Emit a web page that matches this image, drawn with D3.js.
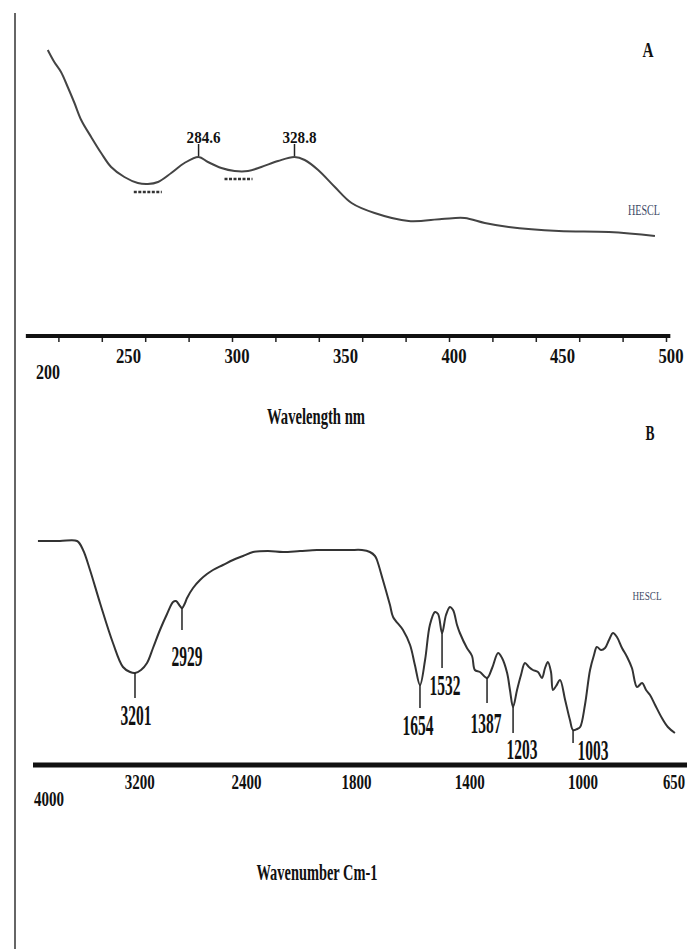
<!DOCTYPE html>
<html><head><meta charset="utf-8">
<script src="https://cdn.jsdelivr.net/npm/d3@7"></script>
<style>body{margin:0;background:#fff} svg{display:block}</style>
</head><body>
<script>
// ---------- Panel A : UV-Vis spectrum ----------
const uvWavelength = [215.1,218.1,221.2,224.3,227.4,230.5,235.1,239.7,244.3,250.4,256.6,261.2,265.9,272.0,278.1,284.6,288.9,295.1,301.2,307.4,313.5,321.2,328.8,333.5,339.7,347.4,355.1,365.7,381.4,396.6,407.2,416.5,427.5,450.6,473.7,494.9];
const uvAbsorbance = [2.86,2.74,2.64,2.49,2.33,2.16,1.99,1.83,1.69,1.59,1.53,1.52,1.54,1.63,1.73,1.79,1.74,1.68,1.65,1.65,1.69,1.75,1.79,1.76,1.66,1.49,1.33,1.23,1.15,1.17,1.18,1.13,1.09,1.05,1.04,1.00];
const uvPeaks = [284.6, 328.8];
const uvPeakLabels = ["284.6", "328.8"];
const uvMinima = [261.2, 303.0];
const uvTickLabels = [200, 250, 300, 350, 400, 450, 500];
const uvMinorTicks = [220,240,260,280,300,320,340,360,380,400,420,440,460,480,500];

// ---------- Panel B : FTIR spectrum ----------
const irWavenumber = [3963,3798,3670,3625,3573,3498,3401,3326,3273,3236,3191,3146,3101,3049,2996,2951,2929,2899,2884,2861,2846,2801,2749,2697,2652,2577,2502,2427,2352,2240,2127,2000,1940,1883,1823,1781,1753,1735,1728,1707,1682,1671,1636,1611,1594,1576,1558,1541,1523,1512,1498,1484,1470,1459,1445,1435,1410,1392,1382,1364,1339,1321,1300,1286,1268,1258,1247,1233,1219,1205,1191,1177,1159,1145,1134,1124,1113,1106,1095,1081,1063,1046,1035,1021,1010,993,975,961,951,936,922,908,894,880,862,844,827,809,791,777,763,745,721,700,675];
const irTransmittance = [90.4,90.4,90.4,86.8,78.8,65.6,49.6,40.0,38.0,37.6,38.8,41.6,47.6,54.8,61.2,66.0,66.4,64.4,63.6,65.6,67.6,71.6,74.8,77.2,78.8,80.8,82.8,84.4,86.0,86.4,86.0,86.4,86.8,86.8,86.8,86.8,86.0,84.4,82.8,74.8,64.8,60.0,54.8,48.8,40.8,32.8,42.8,56.8,62.0,61.2,53.6,60.8,64.0,62.8,56.8,53.6,47.6,44.4,38.8,38.0,35.6,39.6,45.6,43.6,37.6,30.8,24.0,30.8,36.8,41.6,40.0,38.8,38.0,35.6,39.6,42.0,38.0,30.8,32.4,34.8,26.8,18.8,14.8,15.2,16.0,24.8,38.8,44.8,48.0,46.8,47.6,50.8,53.6,52.0,47.6,44.0,39.6,32.0,33.6,30.8,28.8,24.8,19.6,16.0,13.6];
const irPeakPositions = [3236, 2884, 1576, 1498, 1339, 1247, 1035];
const irPeakLabels = ["3201", "2929", "1654", "1532", "1387", "1203", "1003"];
const irTickLabels = [4000, 3200, 2400, 1800, 1400, 1000, 650];

// ---------- drawing ----------
const W = 693, H = 949;
const svg = d3.select("body").append("svg").attr("width", W).attr("height", H);
const serif = "'Liberation Serif','Times New Roman',serif";

function txt(g, s, x, y, size, len, opts = {}) {
  return g.append("text").attr("x", x).attr("y", y)
    .attr("text-anchor", opts.anchor || "middle")
    .attr("font-family", serif).attr("font-size", size)
    .attr("font-weight", opts.weight || "bold")
    .attr("fill", opts.fill || "#111")
    .attr("textLength", len).attr("lengthAdjust", "spacingAndGlyphs")
    .text(s);
}

// left frame line
svg.append("line").attr("x1", 15).attr("x2", 15).attr("y1", 13).attr("y2", H)
  .attr("stroke", "#666").attr("stroke-width", 2);

// ===== Panel A =====
const xA = d3.scaleLinear().domain([200, 500]).range([15, 666]);
const yA = d3.scaleLinear().domain([0, 3]).range([336, 36]);
const gA = svg.append("g");

const axisA = gA.append("g").attr("transform", "translate(0,337)")
  .call(d3.axisBottom(xA).tickValues(uvMinorTicks).tickSize(5).tickFormat(""));
axisA.select(".domain").remove();
axisA.selectAll(".tick line").attr("stroke", "#222").attr("stroke-width", 1.5);
gA.append("line").attr("x1", xA(205)).attr("x2", xA(502)).attr("y1", 336).attr("y2", 336)
  .attr("stroke", "#111").attr("stroke-width", 4);

uvTickLabels.forEach((v, i) => {
  if (i === 0) txt(gA, String(v), xA(v) + 33, 379, 20, 24);
  else txt(gA, String(v), xA(v) + 5, 363, 20, 25);
});

const uvData = uvWavelength.map((w, i) => [w, uvAbsorbance[i]]);
gA.append("path").datum(uvData)
  .attr("d", d3.line().x(d => xA(d[0])).y(d => yA(d[1])).curve(d3.curveCatmullRom))
  .attr("fill", "none").attr("stroke", "#444").attr("stroke-width", 2);

const uvAt = w => { const i = uvWavelength.indexOf(w); return uvAbsorbance[i]; };
uvPeaks.forEach((w, i) => {
  const py = yA(uvAt(w));
  gA.append("line").attr("x1", xA(w)).attr("x2", xA(w)).attr("y1", py - 1).attr("y2", py - 13)
    .attr("stroke", "#222").attr("stroke-width", 1.5);
  txt(gA, uvPeakLabels[i], xA(w) + 5, py - 14, 16, 34);
});
uvMinima.forEach(w => {
  const i = d3.minIndex(uvWavelength, d => Math.abs(d - w));
  const py = yA(uvAbsorbance[i]) + 8;
  gA.append("line").attr("x1", xA(w) - 14).attr("x2", xA(w) + 14).attr("y1", py).attr("y2", py)
    .attr("stroke", "#333").attr("stroke-width", 2.5).attr("stroke-dasharray", "3,1.5");
});

txt(gA, "HESCL", 644, 215, 14, 32, { weight: "normal", fill: "#3d4a66" });
txt(gA, "A", 648, 57, 21, 11);
txt(gA, "Wavelength nm", 316, 424, 23, 98);

// ===== Panel B =====
const xB = d3.scaleLinear().domain([4000, 2000, 650]).range([33, 300, 682]);
const yB = d3.scaleLinear().domain([0, 100]).range([767, 517]);
const gB = svg.append("g");

gB.append("line").attr("x1", xB(4000)).attr("x2", 687).attr("y1", 765).attr("y2", 765)
  .attr("stroke", "#111").attr("stroke-width", 5);

irTickLabels.forEach((v, i) => {
  if (i === 0) txt(gB, String(v), xB(v) + 16, 806, 21, 30);
  else if (v < 1000) txt(gB, String(v), xB(v) - 8, 789, 21, 22);
  else txt(gB, String(v), xB(v), 789, 21, 30);
});

const irData = irWavenumber.map((w, i) => [w, irTransmittance[i]]);
gB.append("path").datum(irData)
  .attr("d", d3.line().x(d => xB(d[0])).y(d => yB(d[1])).curve(d3.curveCatmullRom))
  .attr("fill", "none").attr("stroke", "#333").attr("stroke-width", 2);

// marker layout: tick length, label gap below tick, label horizontal offset
const irTickLen = [25, 22, 23, 35, 25, 26, 13];
const irLabelGap = [27, 36, 27, 27, 30, 26, 17];
const irLabelDx = [1, 5, -2, 3, -1, 9, 20];
irPeakPositions.forEach((w, i) => {
  const py = yB(irTransmittance[irWavenumber.indexOf(w)]);
  const x = xB(w);
  gB.append("line").attr("x1", x).attr("x2", x).attr("y1", py).attr("y2", py + irTickLen[i])
    .attr("stroke", "#222").attr("stroke-width", 1.5);
  txt(gB, irPeakLabels[i], x + irLabelDx[i], py + irTickLen[i] + irLabelGap[i], 30, 31);
});

txt(gB, "HESCL", 647, 600, 13, 29, { weight: "normal", fill: "#3d4a66" });
txt(gB, "B", 650, 440, 21, 9);
txt(gB, "Wavenumber Cm-1", 317, 880, 23, 121);
</script>
</body></html>
